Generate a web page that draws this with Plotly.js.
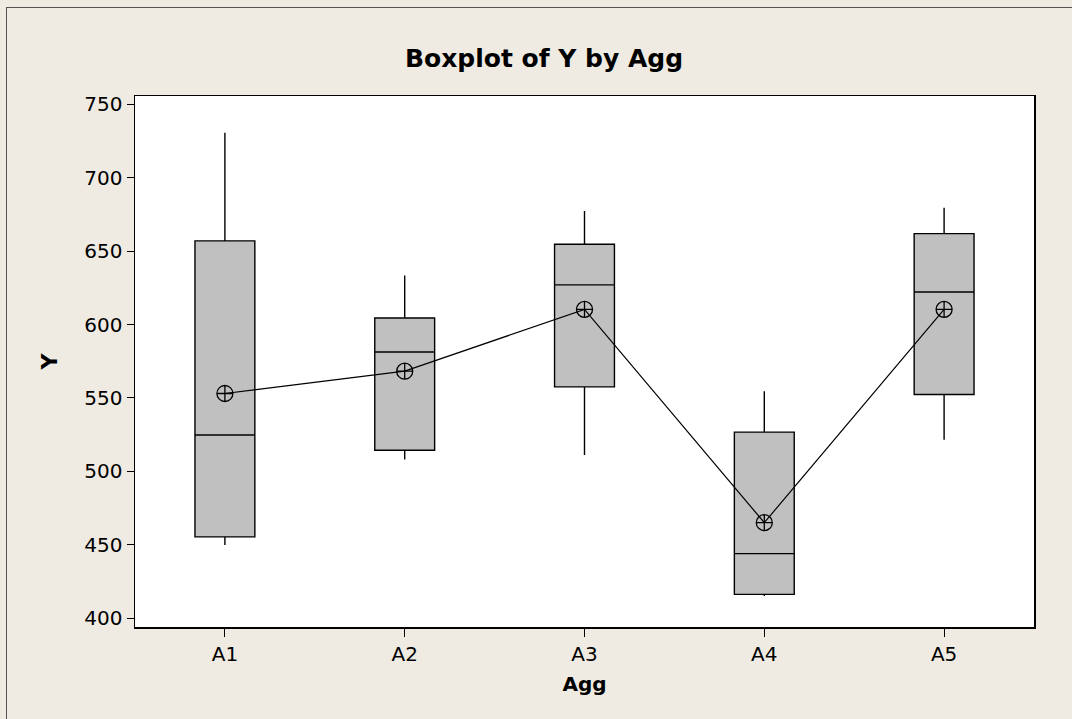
<!DOCTYPE html>
<html>
<head>
<meta charset="utf-8">
<script src="https://cdn.plot.ly/plotly-3.0.1.min.js"></script>
<style>
  html, body { margin: 0; padding: 0; background: #EFEBE2; }
  #wrap { position: relative; width: 1072px; height: 719px; }
  #chart { position: absolute; left: 0; top: 0; width: 1072px; height: 719px; }
  #frame { position: absolute; left: 6px; top: 7px; width: 1080px; height: 730px;
           border-left: 1px solid #555; border-top: 1px solid #555; pointer-events: none; }
</style>
</head>
<body>
<div id="wrap">
  <div id="chart"></div>
  <div id="frame"></div>
</div>
<script>
const categories = ['A1', 'A2', 'A3', 'A4', 'A5'];
const lowerWhisker = [449.8, 508.1, 511.1, 415.0, 521.5];
const q1 = [455.3, 514.3, 557.5, 416.1, 552.3];
const median = [524.7, 581.3, 627.0, 443.9, 622.2];
const q3 = [657.0, 604.4, 654.7, 526.7, 661.9];
const upperWhisker = [730.6, 633.4, 677.3, 554.5, 679.5];
const means = [553.0, 568.2, 610.3, 465.0, 610.3];

const FONT = 'DejaVu Sans, Verdana, sans-serif';

const boxTrace = {
  type: 'box',
  x: categories,
  q1: q1,
  median: median,
  q3: q3,
  lowerfence: lowerWhisker,
  upperfence: upperWhisker,
  boxpoints: false,
  fillcolor: '#C0C0C0',
  line: { color: '#000000', width: 1.4 },
  whiskerwidth: 0,
  width: 0.333,
  hoverinfo: 'skip',
  showlegend: false
};

const meanTrace = {
  type: 'scatter',
  mode: 'lines+markers',
  x: categories,
  y: means,
  line: { color: '#000000', width: 1.2 },
  marker: { symbol: 'circle-cross-open', size: 16, color: '#000000', line: { width: 1.3, color: '#000000' } },
  hoverinfo: 'skip',
  showlegend: false
};

const layout = {
  width: 1072,
  height: 719,
  paper_bgcolor: '#EFEBE2',
  plot_bgcolor: '#FFFFFF',
  margin: { l: 135, r: 38, t: 96, b: 92 },
  font: { family: FONT, size: 20, color: '#000000' },
  title: {
    text: 'Boxplot of Y by Agg',
    font: { family: FONT, size: 25, weight: 'bold', color: '#000000' },
    xref: 'container', x: 0.5075, xanchor: 'center',
    yref: 'container', y: 0.9186, yanchor: 'middle'
  },
  xaxis: {
    type: 'category',
    range: [-0.5, 4.5],
    showline: true, mirror: true, linecolor: '#000000', linewidth: 1.5,
    ticks: 'outside', ticklen: 8, tickwidth: 1, tickcolor: '#000000',
    showgrid: false, zeroline: false,
    tickfont: { family: FONT, size: 20, color: '#000000' },
    title: { text: 'Agg', font: { family: FONT, size: 20, weight: 'bold', color: '#000000' }, standoff: 12 }
  },
  yaxis: {
    range: [393.9, 755.7],
    tick0: 400, dtick: 50,
    showline: true, mirror: true, linecolor: '#000000', linewidth: 1.5,
    ticks: 'outside', ticklen: 7, tickwidth: 1, tickcolor: '#000000',
    showgrid: false, zeroline: false,
    tickfont: { family: FONT, size: 20, color: '#000000' },
    title: { text: 'Y', font: { family: FONT, size: 22, weight: 'bold', color: '#000000' }, standoff: 20 }
  }
};

Plotly.newPlot('chart', [boxTrace, meanTrace], layout, { displayModeBar: false, staticPlot: true });
</script>
</body>
</html>
